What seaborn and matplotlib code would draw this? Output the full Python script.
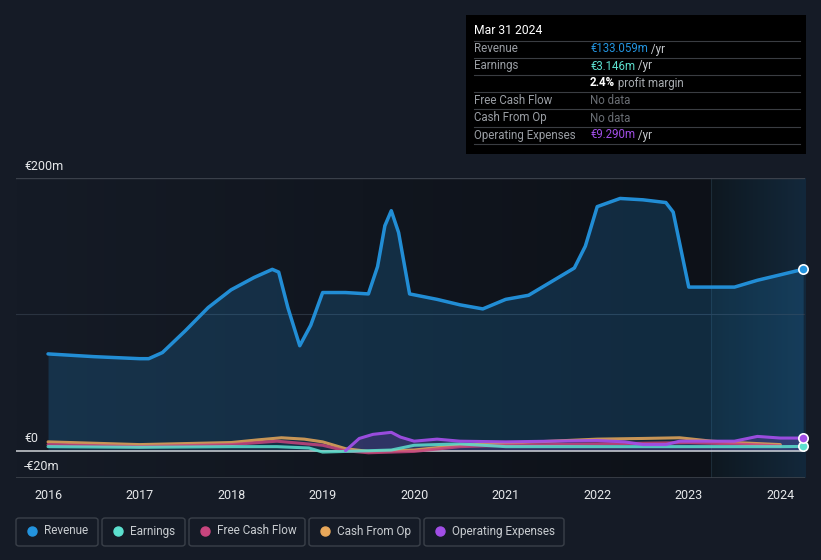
import numpy as np
import pandas as pd
import matplotlib
matplotlib.use("Agg")
import matplotlib.pyplot as plt
from matplotlib.patches import FancyBboxPatch, Rectangle
from matplotlib.colors import LinearSegmentedColormap
import seaborn as sns

# ---------------- data (€m, decimal years) ----------------
rev_x = [2016.0, 2016.5, 2017.0, 2017.1, 2017.25, 2017.5, 2017.75, 2018.0, 2018.25, 2018.45,
         2018.52, 2018.62, 2018.75, 2018.87, 2019.0, 2019.25, 2019.5, 2019.6, 2019.68, 2019.75,
         2019.83, 2019.95, 2020.25, 2020.5, 2020.75, 2021.0, 2021.25, 2021.5, 2021.75, 2021.87,
         2022.0, 2022.25, 2022.5, 2022.75, 2022.83, 2023.0, 2023.25, 2023.5, 2023.75, 2024.0, 2024.25]
rev_y = [71, 69, 67.5, 67.5, 72, 88, 105, 118, 127, 133,
         131, 105, 77, 92, 116, 116, 115, 135, 165, 176,
         160, 115, 111, 107, 104, 111, 114, 124, 134, 150,
         179, 185, 184, 182, 175, 120, 120, 120, 125, 129, 133.059]

earn_x = [2016.0, 2017.0, 2018.0, 2018.5, 2018.85, 2019.0, 2019.25, 2019.5, 2019.75, 2020.0,
          2020.5, 2021.0, 2021.5, 2022.0, 2022.5, 2023.0, 2023.5, 2024.0, 2024.25]
earn_y = [3, 2.5, 3, 3, 2, -1, -0.5, 0, 0.5, 4,
          5, 3, 3, 3, 3, 3, 3, 3, 3.146]

fcf_x = [2016.0, 2017.0, 2018.0, 2018.5, 2019.0, 2019.25, 2019.5, 2020.0, 2020.5, 2021.0,
         2021.5, 2022.0, 2022.5, 2023.0, 2023.5, 2024.0]
fcf_y = [4.5, 3, 4.5, 7, 4, 0, -1.5, -0.5, 3, 4,
         4.5, 5, 5.5, 6, 5, 3.5]

cfo_x = [2016.0, 2017.0, 2018.0, 2018.3, 2018.55, 2018.8, 2019.0, 2019.25, 2019.5, 2020.0,
         2020.5, 2021.0, 2021.5, 2022.0, 2022.5, 2022.9, 2023.25, 2023.5, 2024.0]
cfo_y = [6.5, 4.5, 6, 8, 9.5, 8.5, 6.5, 1.5, -0.5, 0.5,
         4, 5.5, 7, 8.5, 9, 9.5, 7, 6, 4.5]

opex_x = [2019.25, 2019.4, 2019.55, 2019.75, 2019.85, 2020.0, 2020.25, 2020.5, 2021.0, 2021.5,
          2022.0, 2022.3, 2022.5, 2022.75, 2022.9, 2023.25, 2023.5, 2023.75, 2024.0, 2024.25]
opex_y = [0, 9, 12, 13.5, 10, 7, 8.5, 7, 6.5, 7,
          7.5, 6.5, 4.5, 4.5, 7, 7, 7, 10.5, 9.3, 9.29]

x_ticks = [2016, 2017, 2018, 2019, 2020, 2021, 2022, 2023, 2024]
y_labels = ["€200m", "€0", "-€20m"]
forecast_start = 2023.24

series_names = ["Revenue", "Earnings", "Free Cash Flow", "Cash From Op", "Operating Expenses"]
colors = ["#2394df", "#5ce0cf", "#c8457e", "#e8a85a", "#a14ee6"]

BG = "#151b26"
plt.rcParams['font.family'] = ['Roboto', 'DejaVu Sans']

fig = plt.figure(figsize=(8.21, 5.6), dpi=100, facecolor=BG)
ax = fig.add_axes([16/821, 1-478/560, (805-16)/821, 300/560])
ax.set_facecolor(BG)
X0, X1 = 2015.65, 2024.27
ax.set_xlim(X0, X1)
ax.set_ylim(-20, 200)

# background gradient (past) and forecast shading
cm_past = LinearSegmentedColormap.from_list("p", [BG, "#0d1118"])
grad = np.linspace(0, 1, 256).reshape(1, -1)
ax.imshow(grad, extent=[X0, forecast_start, -20, 200], aspect="auto", cmap=cm_past, zorder=0)
cm_fc = LinearSegmentedColormap.from_list("f", ["#0e1820", "#13283b"])
ax.imshow(grad, extent=[forecast_start, X1, -20, 200], aspect="auto", cmap=cm_fc, zorder=0)
ax.axvline(forecast_start, color="#1c2c38", lw=0.8, zorder=1)

# grid lines
ax.axhline(200, color="#3a404a", lw=1, zorder=1)
ax.axhline(100, color="#2a3340", lw=0.8, zorder=1)
ax.axhline(-20, color="#3d434c", lw=1.2, zorder=1)

# fills
ax.fill_between(rev_x, rev_y, 0, color="#2394df", alpha=0.2, lw=0, zorder=2)
ax.fill_between(opex_x, opex_y, 0, color="#a14ee6", alpha=0.2, lw=0, zorder=2)

frames = [
    pd.DataFrame({"x": rev_x, "y": rev_y}),
    pd.DataFrame({"x": earn_x, "y": earn_y}),
    pd.DataFrame({"x": fcf_x, "y": fcf_y}),
    pd.DataFrame({"x": cfo_x, "y": cfo_y}),
    pd.DataFrame({"x": opex_x, "y": opex_y}),
]
order = [3, 2, 1, 4, 0]
for i in order:
    sns.lineplot(data=frames[i], x="x", y="y", color=colors[i], lw=2.5 if i == 0 else 2.2,
                 ax=ax, zorder=4 + (i == 0), legend=False, alpha=0.95 if i in (0, 4) else 0.85,
                 solid_joinstyle="round", solid_capstyle="round")

ax.axhline(0, color="#d0d4d8", lw=1.1, zorder=3.5)

# end dots
for xs, ys, c in [(rev_x, rev_y, colors[0]), (earn_x, earn_y, colors[1]), (opex_x, opex_y, colors[4])]:
    ax.scatter([xs[-1]], [ys[-1]], s=45, color=c, edgecolor="white", linewidth=1.2, zorder=6, clip_on=False)

ax.set_xlabel("")
ax.set_ylabel("")
ax.set_yticks([])
ax.set_xticks(x_ticks)
ax.set_xticklabels([str(t) for t in x_ticks], color="#e6e8ea", fontsize=9)
ax.tick_params(axis="x", length=0, pad=8)
for s in ax.spines.values():
    s.set_visible(False)

# y labels
for lab, yp in zip(y_labels, [166, 439, 466]):
    fig.text(24/821, 1-yp/560, lab, color="#e6e8ea", fontsize=9, va="center", ha="left")

# tooltip box
fig.patches.append(Rectangle((466/821, 1-154/560), 340/821, 139/560, transform=fig.transFigure,
                             facecolor="#000000", edgecolor="none", zorder=10))
def fy(y):
    return 1-y/560
fig.text(474/821, fy(31), "Mar 31 2024", color="#ffffff", fontsize=8.7, va="center", zorder=11)
rows = [("Revenue", 49, [("€133.059m", colors[0], "normal"), (" /yr", "#c8ccd0", "normal")]),
        ("Earnings", 66, [("€3.146m", colors[1], "normal"), (" /yr", "#c8ccd0", "normal")]),
        ("", 83, [("2.4%", "#ffffff", "bold"), (" profit margin", "#a8acb0", "normal")]),
        ("Free Cash Flow", 100, [("No data", "#6a6e74", "normal")]),
        ("Cash From Op", 118, [("No data", "#6a6e74", "normal")]),
        ("Operating Expenses", 135, [("€9.290m", colors[4], "normal"), (" /yr", "#c8ccd0", "normal")])]
r = fig.canvas.get_renderer()
for lbl, yy, parts in rows:
    fig.text(474/821, fy(yy), lbl, color="#9a9ea4", fontsize=8.3, va="center", zorder=11)
    xx = 590/821
    for txt, c, w in parts:
        t = fig.text(xx, fy(yy), txt, color=c, fontsize=8.3, va="center", zorder=11, fontweight=w)
        bb = t.get_window_extent(renderer=r)
        xx += bb.width / fig.bbox.width
for yl in [41, 58, 75, 92, 109, 127, 144]:
    fig.add_artist(plt.Line2D([474/821, 800/821], [fy(yl), fy(yl)], color="#3a3d42", lw=0.8, zorder=11))

# legend boxes
boxes = [(16, 98), (102, 185), (189, 305), (309, 420), (424, 564)]
for (x0, x1), name, c in zip(boxes, series_names, colors):
    fig.patches.append(FancyBboxPatch((x0/821, fy(546)), (x1-x0)/821, 28/560,
                                      boxstyle="round,pad=0,rounding_size=0.004",
                                      transform=fig.transFigure, facecolor="none",
                                      edgecolor="#3a4049", lw=1))
    fig.add_artist(plt.Line2D([(x0+16)/821], [fy(531)], marker="o", markersize=6.5,
                              color=c, linestyle="none"))
    fig.text((x0+28)/821, fy(531), name, color="#c8ccd0", fontsize=8.5, va="center")

fig.savefig("out.png", dpi=100, facecolor=BG)
